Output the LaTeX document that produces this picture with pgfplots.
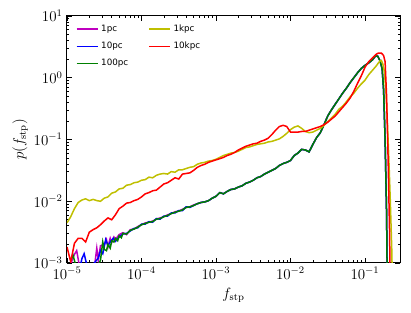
\documentclass[border=0pt]{standalone}
\usepackage{fontspec}
\usepackage{pgfplots}
\pgfplotsset{compat=1.18}
\newfontfamily\legfont{DejaVu Sans}
\definecolor{mplm}{rgb}{0.75,0,0.75}
\definecolor{mplb}{rgb}{0,0,1}
\definecolor{mplg}{rgb}{0,0.5,0}
\definecolor{mply}{rgb}{0.75,0.75,0}
\definecolor{mplr}{rgb}{1,0,0}
\begin{document}
\begin{tikzpicture}
\begin{axis}[
  at={(0,0)}, anchor=south west,
  scale only axis, width=266.4pt, height=197.6pt,
  xmode=log, ymode=log,
  xmin=1e-5, xmax=0.2951, ymin=1e-3, ymax=10,
  xtick={1e-5,1e-4,1e-3,1e-2,1e-1},
  ytick={1e-3,1e-2,1e-1,1,10},
  tick align=inside,
  major tick length=4pt, minor tick length=2pt,
  every tick/.style={black, line width=0.6pt},
  axis line style={line width=0.8pt},
  tick label style={font=\large},
  label style={font=\large},
  xlabel={$f_{\mathrm{stp}}$},
  ylabel={$p(f_{\mathrm{stp}})$},
  xlabel style={at={(axis description cs:0.5,-0.13)}, anchor=center},
  ylabel style={at={(axis description cs:-0.141,0.5)}, anchor=center},
  legend columns=3, transpose legend,
  legend style={legend cell align=left, draw=none, fill=none,
    at={(0.015,0.985)}, anchor=north west, font=\legfont\scriptsize,
    row sep=3pt, /tikz/every even column/.append style={column sep=14pt}},
  legend image code/.code={\draw[#1, line width=1.2pt] (0pt,0pt) -- (17pt,0pt);},
]
% 1pc
\addplot[mplm, line width=1.2pt] coordinates {
(1.072e-5,7.943e-4) (1.175e-5,1.122e-3) (1.259e-5,1.380e-3) (1.349e-5,1.585e-3)
(1.445e-5,1.0e-3) (1.585e-5,6.310e-4) (2.344e-5,8.913e-4) (2.512e-5,1.738e-3)
(2.630e-5,1.122e-3) (2.818e-5,1.905e-3) (3.162e-5,1.995e-3) (3.388e-5,2.399e-3)
(3.548e-5,1.820e-3) (3.802e-5,2.512e-3) (3.981e-5,2.138e-3) (4.266e-5,2.630e-3)
(4.467e-5,2.399e-3) (5.012e-5,2.884e-3)
(5.623e-5,3.090e-3) (6.310e-5,2.884e-3) (7.079e-5,3.467e-3) (7.943e-5,3.548e-3)
(8.913e-5,3.890e-3) (1e-4,4.169e-3) (1.122e-4,4.467e-3) (1.259e-4,4.571e-3)
(1.413e-4,4.786e-3) (1.585e-4,5.129e-3) (1.778e-4,5.370e-3) (1.995e-4,5.623e-3)
(2.239e-4,6.026e-3) (2.512e-4,6.310e-3) (2.818e-4,6.761e-3) (3.162e-4,6.918e-3)
(3.548e-4,7.413e-3) (3.981e-4,7.943e-3) (4.467e-4,8.128e-3) (5.012e-4,8.710e-3)
(5.623e-4,9.120e-3) (6.310e-4,9.550e-3) (7.079e-4,9.772e-3) (7.943e-4,1.023e-2)
(8.913e-4,1.122e-2) (1e-3,1.202e-2) (1.122e-3,1.380e-2) (1.259e-3,1.318e-2)
(1.413e-3,1.445e-2) (1.585e-3,1.549e-2) (1.778e-3,1.585e-2) (1.995e-3,1.698e-2)
(2.239e-3,1.778e-2) (2.512e-3,1.950e-2) (2.818e-3,2.042e-2) (3.162e-3,2.188e-2)
(3.548e-3,2.399e-2) (3.981e-3,2.512e-2) (4.467e-3,2.754e-2) (5.012e-3,2.951e-2)
(5.623e-3,3.162e-2) (6.310e-3,3.388e-2) (7.079e-3,3.802e-2) (7.943e-3,4.074e-2)
(8.913e-3,4.266e-2) (1e-2,4.571e-2) (1.122e-2,5.495e-2) (1.259e-2,6.026e-2)
(1.413e-2,6.918e-2) (1.585e-2,6.761e-2) (1.778e-2,6.310e-2) (1.995e-2,8.318e-2)
(2.239e-2,0.1072) (2.512e-2,0.1288) (2.818e-2,0.1738) (3.162e-2,0.2399)
(3.548e-2,0.3020) (3.981e-2,0.3715) (4.467e-2,0.4571) (5.012e-2,0.5623)
(5.623e-2,0.6761) (6.310e-2,0.8318) (7.079e-2,1.000) (7.943e-2,1.202)
(8.913e-2,1.413) (0.1,1.585) (0.1122,1.738) (0.1259,1.950) (0.1380,2.239)
(0.1479,2.239) (0.1585,1.905) (0.1698,1.413) (0.1778,0.631) (0.1862,0.1)
(0.1950,6.310e-3) (0.1995,3.162e-4)
};
\addlegendentry{1pc}
% 10pc
\addplot[mplb, line width=1.2pt] coordinates {
(1.479e-5,7.943e-4) (1.585e-5,1.175e-3) (1.698e-5,1.413e-3) (1.820e-5,1.0e-3)
(1.995e-5,7.943e-4) (2.630e-5,1.202e-3) (2.818e-5,1.585e-3) (3.020e-5,1.413e-3)
(3.311e-5,2.399e-3) (3.548e-5,1.905e-3) (3.802e-5,2.188e-3) (4.169e-5,2.512e-3)
(4.467e-5,2.239e-3) (5.012e-5,2.630e-3)
(5.623e-5,2.951e-3) (6.310e-5,3.020e-3) (7.079e-5,3.311e-3) (7.943e-5,3.631e-3)
(8.913e-5,3.715e-3) (1e-4,4.266e-3) (1.122e-4,4.266e-3) (1.259e-4,4.677e-3)
(1.413e-4,4.571e-3) (1.585e-4,5.248e-3) (1.778e-4,5.129e-3) (1.995e-4,5.754e-3)
(2.239e-4,5.754e-3) (2.512e-4,6.457e-3) (2.818e-4,6.457e-3) (3.162e-4,7.079e-3)
(3.548e-4,7.079e-3) (3.981e-4,8.128e-3) (4.467e-4,7.943e-3) (5.012e-4,8.511e-3)
(5.623e-4,9.120e-3) (6.310e-4,9.550e-3) (7.079e-4,9.772e-3) (7.943e-4,1.023e-2)
(8.913e-4,1.122e-2) (1e-3,1.202e-2) (1.122e-3,1.380e-2) (1.259e-3,1.318e-2)
(1.413e-3,1.445e-2) (1.585e-3,1.549e-2) (1.778e-3,1.585e-2) (1.995e-3,1.698e-2)
(2.239e-3,1.778e-2) (2.512e-3,1.950e-2) (2.818e-3,2.042e-2) (3.162e-3,2.188e-2)
(3.548e-3,2.399e-2) (3.981e-3,2.512e-2) (4.467e-3,2.754e-2) (5.012e-3,2.951e-2)
(5.623e-3,3.162e-2) (6.310e-3,3.388e-2) (7.079e-3,3.802e-2) (7.943e-3,4.074e-2)
(8.913e-3,4.266e-2) (1e-2,4.571e-2) (1.122e-2,5.495e-2) (1.259e-2,6.026e-2)
(1.413e-2,6.918e-2) (1.585e-2,6.761e-2) (1.778e-2,6.310e-2) (1.995e-2,8.318e-2)
(2.239e-2,0.1072) (2.512e-2,0.1288) (2.818e-2,0.1738) (3.162e-2,0.2399)
(3.548e-2,0.3020) (3.981e-2,0.3715) (4.467e-2,0.4571) (5.012e-2,0.5623)
(5.623e-2,0.6761) (6.310e-2,0.8318) (7.079e-2,1.000) (7.943e-2,1.202)
(8.913e-2,1.413) (0.1,1.585) (0.1122,1.738) (0.1259,1.950) (0.1380,2.239)
(0.1479,2.239) (0.1585,1.905) (0.1698,1.413) (0.1778,0.631) (0.1862,0.1)
(0.1950,6.310e-3) (0.1995,3.162e-4)
};
\addlegendentry{10pc}
% 100pc
\addplot[mplg, line width=1.2pt] coordinates {
(1.122e-5,1.122e-3) (1.202e-5,1.349e-3) (1.318e-5,8.913e-4) (1.585e-5,6.310e-4)
(2.512e-5,7.943e-4) (2.818e-5,1.122e-3) (3.020e-5,2.188e-3) (3.162e-5,1.660e-3)
(3.388e-5,1.585e-3) (3.548e-5,1.995e-3) (3.802e-5,1.738e-3) (3.981e-5,2.291e-3)
(4.266e-5,2.188e-3) (4.467e-5,2.512e-3) (4.786e-5,2.291e-3) (5.012e-5,2.754e-3)
(5.370e-5,2.570e-3) (5.623e-5,3.020e-3) (6.310e-5,2.951e-3) (7.079e-5,3.388e-3)
(7.943e-5,3.548e-3) (8.913e-5,3.802e-3) (1e-4,4.169e-3) (1.122e-4,4.365e-3)
(1.259e-4,4.571e-3) (1.413e-4,4.677e-3) (1.585e-4,5.129e-3) (1.778e-4,5.248e-3)
(1.995e-4,5.623e-3) (2.239e-4,5.888e-3) (2.512e-4,6.310e-3) (2.818e-4,6.607e-3)
(3.162e-4,6.918e-3) (3.548e-4,7.244e-3) (3.981e-4,7.943e-3) (4.467e-4,8.128e-3)
(5.012e-4,8.511e-3) (5.623e-4,9.120e-3) (6.310e-4,9.550e-3) (7.079e-4,9.772e-3)
(7.943e-4,1.023e-2) (8.913e-4,1.122e-2) (1e-3,1.202e-2) (1.122e-3,1.380e-2)
(1.259e-3,1.318e-2) (1.413e-3,1.445e-2) (1.585e-3,1.549e-2) (1.778e-3,1.585e-2)
(1.995e-3,1.698e-2) (2.239e-3,1.778e-2) (2.512e-3,1.950e-2) (2.818e-3,2.042e-2)
(3.162e-3,2.188e-2) (3.548e-3,2.399e-2) (3.981e-3,2.512e-2) (4.467e-3,2.754e-2)
(5.012e-3,2.951e-2) (5.623e-3,3.162e-2) (6.310e-3,3.388e-2) (7.079e-3,3.802e-2)
(7.943e-3,4.074e-2) (8.913e-3,4.266e-2) (1e-2,4.571e-2) (1.122e-2,5.495e-2)
(1.259e-2,6.026e-2) (1.413e-2,6.918e-2) (1.585e-2,6.761e-2) (1.778e-2,6.310e-2)
(1.995e-2,8.318e-2) (2.239e-2,0.1072) (2.512e-2,0.1288) (2.818e-2,0.1738)
(3.162e-2,0.2399) (3.548e-2,0.3020) (3.981e-2,0.3715) (4.467e-2,0.4571)
(5.012e-2,0.5623) (5.623e-2,0.6761) (6.310e-2,0.8318) (7.079e-2,1.000)
(7.943e-2,1.202) (8.913e-2,1.413) (0.1,1.585) (0.1122,1.738) (0.1259,1.950)
(0.1380,2.239) (0.1479,2.239) (0.1585,1.905) (0.1698,1.413) (0.1778,0.631)
(0.1862,0.1) (0.1950,6.310e-3) (0.1995,3.162e-4)
};
\addlegendentry{100pc}
% 1kpc
\addplot[mply, line width=1.2pt] coordinates {
(1e-5,4.467e-3) (1.122e-5,5.623e-3) (1.259e-5,7.586e-3) (1.413e-5,9.550e-3)
(1.585e-5,1.047e-2) (1.778e-5,1.096e-2) (1.995e-5,1.023e-2) (2.239e-5,1.072e-2)
(2.512e-5,1.023e-2) (2.818e-5,1.000e-2) (3.162e-5,1.122e-2) (3.548e-5,1.175e-2)
(3.981e-5,1.349e-2) (4.467e-5,1.413e-2) (5.012e-5,1.585e-2) (5.623e-5,1.622e-2)
(6.310e-5,1.820e-2) (7.079e-5,1.862e-2) (7.943e-5,1.995e-2) (8.913e-5,2.042e-2)
(1e-4,2.188e-2) (1.122e-4,2.239e-2) (1.259e-4,2.455e-2) (1.413e-4,2.399e-2)
(1.585e-4,2.630e-2) (1.778e-4,2.754e-2) (1.995e-4,2.818e-2) (2.239e-4,2.754e-2)
(2.512e-4,3.020e-2) (2.818e-4,2.951e-2) (3.162e-4,3.236e-2) (3.548e-4,3.236e-2)
(3.981e-4,3.388e-2) (4.467e-4,3.548e-2) (5.012e-4,3.631e-2) (5.623e-4,3.981e-2)
(6.310e-4,4.169e-2) (7.079e-4,4.266e-2) (7.943e-4,4.467e-2) (8.913e-4,4.571e-2)
(1e-3,4.786e-2) (1.122e-3,5.129e-2) (1.259e-3,5.495e-2) (1.413e-3,5.754e-2)
(1.585e-3,6.026e-2) (1.778e-3,6.166e-2) (1.995e-3,6.457e-2) (2.239e-3,6.918e-2)
(2.512e-3,7.413e-2) (2.818e-3,7.586e-2) (3.162e-3,7.943e-2) (3.548e-3,8.318e-2)
(3.981e-3,8.511e-2) (4.467e-3,8.710e-2) (5.012e-3,9.120e-2) (5.623e-3,9.333e-2)
(6.310e-3,9.772e-2) (7.079e-3,0.1023) (7.943e-3,0.1122) (8.913e-3,0.1259)
(1e-2,0.1445) (1.122e-2,0.1585) (1.259e-2,0.1660) (1.413e-2,0.1514)
(1.585e-2,0.1349) (1.778e-2,0.1288) (1.995e-2,0.1318) (2.239e-2,0.1413)
(2.512e-2,0.1514) (2.818e-2,0.1698) (3.162e-2,0.1950) (3.548e-2,0.2239)
(3.981e-2,0.2570) (4.467e-2,0.3090) (5.012e-2,0.3467) (5.623e-2,0.4074)
(6.310e-2,0.4898) (7.079e-2,0.5623) (7.943e-2,0.6761) (8.913e-2,0.7943)
(0.1,0.9120) (0.1122,1.122) (0.1259,1.318) (0.1413,1.549) (0.1514,1.738)
(0.1585,1.862) (0.1660,1.905) (0.1738,1.660) (0.1820,1.259) (0.1905,0.631)
(0.1995,0.1995) (0.2089,0.0501) (0.2188,0.01) (0.2291,1.585e-3) (0.2344,3.162e-4)
};
\addlegendentry{1kpc}
% 10kpc
\addplot[mplr, line width=1.2pt] coordinates {
(1e-5,1.820e-3) (1.122e-5,1.047e-3) (1.259e-5,2.089e-3) (1.413e-5,2.512e-3)
(1.585e-5,2.512e-3) (1.778e-5,2.188e-3) (1.995e-5,3.162e-3) (2.239e-5,3.467e-3)
(2.512e-5,3.715e-3) (2.818e-5,4.169e-3) (3.162e-5,4.786e-3) (3.548e-5,5.370e-3)
(3.981e-5,5.012e-3) (4.467e-5,6.026e-3) (5.012e-5,7.586e-3) (5.623e-5,8.318e-3)
(6.310e-5,9.333e-3) (7.079e-5,9.550e-3) (7.943e-5,1.023e-2) (8.913e-5,1.072e-2)
(1e-4,1.175e-2) (1.122e-4,1.318e-2) (1.259e-4,1.380e-2) (1.413e-4,1.479e-2)
(1.585e-4,1.514e-2) (1.778e-4,1.698e-2) (1.995e-4,1.905e-2) (2.239e-4,1.995e-2)
(2.512e-4,2.188e-2) (2.818e-4,2.399e-2) (3.162e-4,2.291e-2) (3.548e-4,2.754e-2)
(3.981e-4,2.818e-2) (4.467e-4,2.884e-2) (5.012e-4,3.162e-2) (5.623e-4,3.548e-2)
(6.310e-4,3.802e-2) (7.079e-4,3.981e-2) (7.943e-4,4.266e-2) (8.913e-4,4.467e-2)
(1e-3,4.677e-2) (1.122e-3,4.898e-2) (1.259e-3,5.129e-2) (1.413e-3,5.495e-2)
(1.585e-3,5.754e-2) (1.778e-3,6.166e-2) (1.995e-3,6.761e-2) (2.239e-3,7.244e-2)
(2.512e-3,7.762e-2) (2.818e-3,8.128e-2) (3.162e-3,8.511e-2) (3.548e-3,8.710e-2)
(3.981e-3,9.333e-2) (4.467e-3,9.772e-2) (5.012e-3,0.1047) (5.623e-3,0.1202)
(6.310e-3,0.1413) (7.079e-3,0.1622) (7.943e-3,0.1698) (8.913e-3,0.1622)
(1e-2,0.1318) (1.122e-2,0.1318) (1.259e-2,0.1318) (1.413e-2,0.1349)
(1.585e-2,0.1349) (1.778e-2,0.1413) (1.995e-2,0.1479) (2.239e-2,0.1549)
(2.512e-2,0.1622) (2.818e-2,0.1738) (3.162e-2,0.1905) (3.548e-2,0.2138)
(3.981e-2,0.2399) (4.467e-2,0.2818) (5.012e-2,0.3311) (5.623e-2,0.3890)
(6.310e-2,0.4677) (7.079e-2,0.6026) (7.943e-2,0.8128) (8.913e-2,1.072)
(0.1,1.479) (0.1122,1.820) (0.1259,2.089) (0.1413,2.399) (0.1514,2.512)
(0.1660,2.512) (0.1778,2.291) (0.1862,1.820) (0.1950,0.5012) (0.2042,0.0501)
(0.2138,3.162e-3) (0.2188,3.162e-4)
};
\addlegendentry{10kpc}
\end{axis}
\path[use as bounding box] (-53.6pt,-40pt) rectangle (275.2pt,210.4pt);
\end{tikzpicture}
\end{document}
